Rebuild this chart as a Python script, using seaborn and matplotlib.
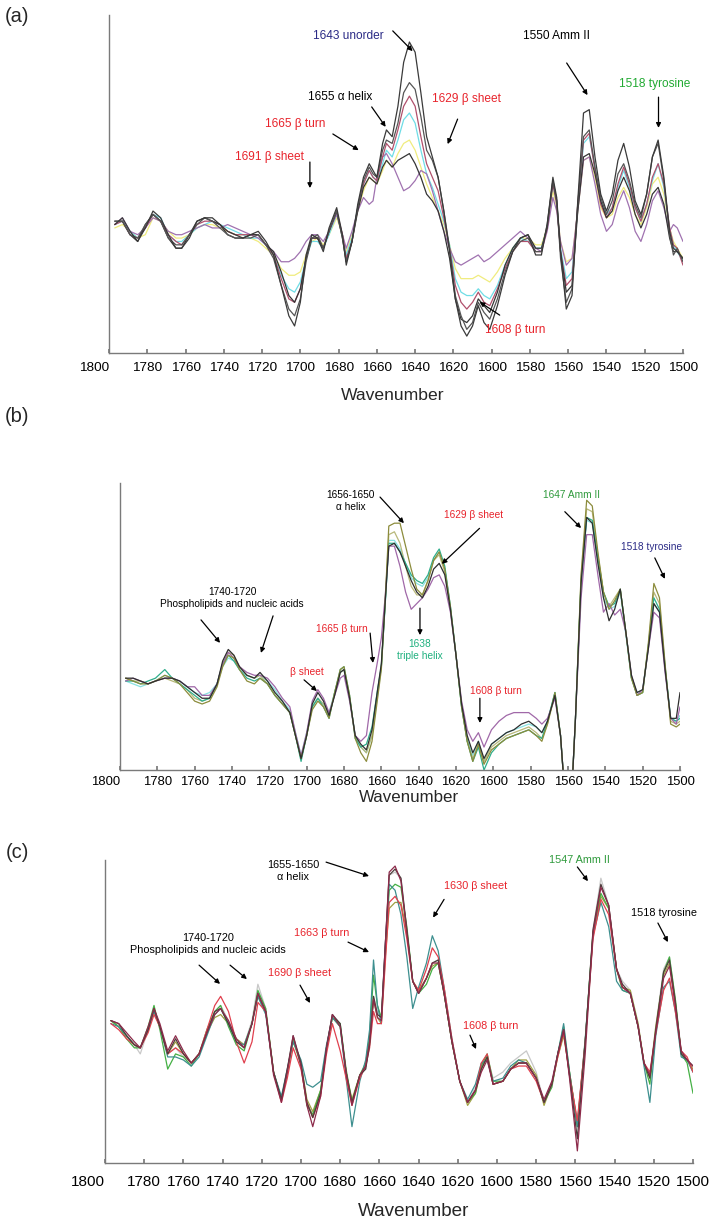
import pandas as pd
import seaborn as sns
import matplotlib.pyplot as plt

# ---- panel (a) : wavenumber grid and second-derivative-like traces (arb. units 0-100)
wn_a = [1797, 1793, 1789, 1785, 1781, 1777, 1773, 1769, 1765, 1762,
        1758, 1754, 1750, 1746, 1742, 1738, 1734, 1730, 1726, 1722,
        1718, 1714, 1710, 1706, 1703, 1700, 1697, 1694, 1691, 1688,
        1685, 1681, 1678, 1676, 1673, 1670, 1667, 1664, 1662, 1660,
        1657, 1655, 1652, 1649, 1646, 1643, 1640, 1637, 1634, 1631,
        1628, 1625, 1622, 1619, 1616, 1613, 1610, 1607, 1604, 1601,
        1597, 1593, 1589, 1585, 1581, 1577, 1574, 1571, 1568, 1566,
        1564, 1561, 1558, 1555, 1552, 1549, 1546, 1543, 1540, 1537,
        1534, 1531, 1528, 1525, 1522, 1519, 1516, 1513, 1510, 1507,
        1505, 1503, 1500]
a_yellow = [37, 38, 36, 34, 35, 40, 39, 36, 34, 34,
            35, 37, 38, 38, 37, 36, 35, 35, 34, 33,
            31, 29, 25, 23, 23, 24, 29, 33, 34, 32,
            35, 40, 35, 30, 35, 42, 48, 52, 51, 50,
            54, 57, 55, 59, 62, 63, 60, 55, 50, 46,
            42, 38, 32, 25, 22, 22, 22, 23, 22, 21,
            24, 28, 31, 34, 34, 32, 32, 37, 48, 43,
            33, 27, 28, 42, 57, 58, 52, 43, 40, 41,
            46, 49, 46, 41, 38, 43, 50, 52, 47, 37,
            33, 31, 28]
a_cyan = [38, 39, 36, 34, 37, 41, 40, 35, 33, 33,
          35, 37, 38, 39, 38, 37, 36, 35, 34, 34,
          32, 29, 23, 19, 18, 21, 28, 33, 33, 31,
          35, 41, 35, 29, 34, 43, 50, 54, 52, 51,
          56, 60, 58, 63, 69, 71, 68, 60, 53, 49,
          44, 39, 32, 22, 18, 17, 17, 19, 17, 16,
          20, 26, 31, 34, 33, 31, 31, 37, 50, 44,
          31, 22, 24, 43, 62, 64, 55, 45, 41, 43,
          49, 54, 49, 43, 39, 44, 51, 56, 49, 37,
          32, 30, 27]
a_purple = [38, 40, 36, 35, 37, 40, 39, 36, 35, 35,
            36, 37, 38, 37, 37, 38, 37, 36, 35, 34,
            32, 30, 27, 27, 28, 30, 33, 35, 35, 33,
            36, 41, 35, 31, 36, 42, 46, 44, 45, 52,
            58, 59, 56, 52, 48, 49, 51, 54, 53, 48,
            42, 36, 31, 27, 26, 27, 28, 29, 27, 28,
            30, 32, 34, 36, 34, 31, 30, 36, 46, 42,
            33, 26, 28, 42, 57, 58, 50, 41, 36, 38,
            44, 48, 43, 36, 33, 38, 45, 48, 43, 36,
            38, 37, 33]
a_maroon = [38, 39, 35, 34, 37, 41, 39, 35, 33, 32,
            35, 38, 39, 39, 38, 36, 35, 35, 35, 35,
            32, 29, 22, 16, 15, 19, 28, 34, 34, 31,
            36, 42, 35, 28, 33, 43, 50, 54, 52, 51,
            58, 62, 60, 66, 73, 76, 73, 64, 56, 52,
            48, 40, 31, 20, 15, 13, 15, 18, 15, 14,
            19, 25, 30, 33, 33, 30, 30, 37, 50, 44,
            30, 20, 22, 44, 63, 65, 54, 44, 40, 43,
            50, 55, 50, 43, 39, 44, 52, 56, 50, 37,
            32, 31, 26]
a_dark3 = [39, 39, 35, 33, 38, 41, 39, 34, 31, 31,
           35, 39, 40, 39, 38, 35, 34, 34, 35, 35,
           32, 30, 24, 17, 15, 19, 28, 34, 34, 31,
           36, 42, 34, 27, 33, 42, 49, 52, 51, 50,
           55, 57, 55, 57, 58, 59, 56, 52, 47, 45,
           42, 36, 28, 16, 10, 9, 11, 16, 14, 12,
           18, 26, 31, 34, 35, 31, 31, 37, 51, 45,
           30, 18, 20, 42, 58, 59, 53, 45, 40, 42,
           48, 52, 48, 41, 37, 41, 47, 49, 44, 34,
           30, 30, 28]
a_dark2 = [39, 39, 35, 34, 38, 41, 39, 34, 32, 32,
           35, 38, 40, 39, 37, 35, 34, 34, 34, 35,
           32, 28, 20, 13, 11, 16, 27, 34, 35, 31,
           36, 42, 34, 27, 33, 43, 51, 55, 53, 52,
           60, 63, 62, 68, 77, 80, 78, 70, 60, 57,
           52, 42, 31, 17, 11, 7, 9, 15, 12, 10,
           16, 24, 30, 33, 34, 30, 30, 38, 51, 45,
           28, 15, 19, 44, 64, 66, 55, 46, 41, 45,
           53, 56, 51, 44, 40, 47, 58, 62, 51, 35,
           29, 31, 27]
a_dark1 = [38, 40, 36, 33, 37, 42, 40, 35, 31, 31,
           34, 39, 40, 40, 38, 36, 35, 34, 35, 36,
           33, 29, 20, 11, 8, 15, 29, 35, 34, 30,
           37, 43, 35, 26, 33, 44, 52, 56, 54, 52,
           62, 66, 64, 73, 86, 92, 89, 77, 64, 58,
           52, 42, 30, 16, 8, 5, 8, 14, 9, 7,
           14, 23, 30, 34, 35, 29, 29, 38, 52, 46,
           30, 13, 17, 45, 71, 72, 58, 47, 42, 47,
           57, 62, 55, 45, 41, 47, 58, 63, 52, 36,
           31, 30, 28]

# ---- panel (b)
wn_b = [1797, 1793, 1789, 1785, 1781, 1776, 1772, 1768, 1764, 1760,
        1756, 1752, 1748, 1745, 1742, 1739, 1736, 1732, 1728, 1725,
        1721, 1717, 1713, 1709, 1706, 1703, 1700, 1697, 1694, 1691,
        1688, 1685, 1682, 1680, 1677, 1674, 1671, 1668, 1665, 1662,
        1660, 1658, 1656, 1653, 1650, 1647, 1644, 1641, 1638, 1635,
        1632, 1629, 1626, 1623, 1620, 1617, 1614, 1611, 1608, 1605,
        1601, 1597, 1593, 1589, 1585, 1581, 1577, 1574, 1571, 1567,
        1564, 1562, 1560, 1558, 1556, 1553, 1550, 1547, 1544, 1541,
        1538, 1535, 1532, 1529, 1526, 1523, 1520, 1517, 1514, 1511,
        1508, 1505, 1502, 1500]
b_cyan = [31, 30, 29, 30, 31, 33, 32, 31, 29, 27,
          26, 27, 30, 36, 39, 38, 35, 33, 32, 33,
          31, 28, 24, 21, 13, 5, 13, 22, 25, 23,
          20, 27, 34, 35, 25, 12, 8, 6, 12, 26,
          36, 57, 80, 80, 77, 72, 67, 65, 64, 67,
          73, 76, 70, 57, 40, 22, 11, 5, 10, 3,
          9, 11, 13, 14, 15, 16, 15, 13, 17, 27,
          12, -6, -15, -8, 18, 65, 87, 86, 73, 60,
          56, 57, 62, 47, 32, 27, 28, 43, 58, 55,
          36, 18, 17, 19]
b_khaki = [32, 31, 31, 30, 31, 32, 31, 30, 28, 25,
           24, 25, 30, 37, 41, 40, 36, 33, 32, 33,
           30, 26, 23, 20, 12, 4, 12, 22, 25, 23,
           19, 27, 34, 35, 25, 12, 8, 6, 12, 27,
           36, 58, 82, 83, 79, 71, 64, 61, 61, 66,
           73, 75, 69, 56, 40, 22, 10, 4, 9, 3,
           8, 10, 12, 13, 14, 15, 13, 11, 16, 26,
           12, -6, -15, -8, 18, 67, 91, 90, 75, 62,
           57, 60, 63, 48, 32, 26, 27, 43, 62, 58,
           36, 17, 16, 17]
b_teal = [31, 31, 30, 31, 32, 35, 32, 30, 28, 26,
          24, 25, 30, 37, 40, 38, 35, 32, 31, 32,
          30, 26, 23, 20, 12, 3, 12, 22, 25, 22,
          18, 27, 35, 36, 26, 11, 8, 9, 15, 28,
          36, 57, 79, 79, 76, 72, 68, 66, 65, 68,
          74, 77, 71, 57, 40, 22, 10, 3, 8, 0,
          6, 9, 11, 12, 13, 14, 12, 11, 17, 27,
          12, -6, -15, -8, 18, 66, 88, 87, 74, 62,
          57, 58, 63, 48, 32, 26, 27, 43, 60, 56,
          36, 18, 17, 18]
b_purple = [31, 32, 31, 30, 31, 32, 32, 31, 29, 29,
            26, 26, 30, 37, 41, 39, 36, 34, 33, 33,
            32, 29, 25, 22, 13, 5, 13, 24, 28, 25,
            20, 26, 32, 33, 24, 12, 10, 12, 27, 38,
            46, 60, 78, 78, 71, 62, 56, 58, 60, 63,
            67, 68, 64, 55, 40, 24, 14, 10, 13, 8,
            14, 17, 19, 20, 20, 20, 18, 16, 18, 25,
            12, -6, -15, -8, 18, 60, 82, 82, 68, 55,
            58, 54, 56, 48, 33, 26, 28, 42, 55, 53,
            34, 18, 16, 22]
b_olive = [32, 31, 30, 30, 31, 33, 32, 30, 27, 24,
           23, 24, 29, 36, 40, 39, 35, 31, 30, 32,
           30, 26, 23, 20, 12, 4, 12, 21, 24, 22,
           18, 27, 35, 36, 26, 11, 6, 3, 10, 25,
           35, 58, 85, 86, 86, 78, 70, 63, 61, 66,
           73, 76, 70, 57, 40, 22, 10, 3, 9, 2,
           7, 9, 11, 12, 13, 14, 12, 10, 16, 27,
           12, -6, -15, -8, 18, 68, 94, 92, 76, 62,
           56, 59, 63, 48, 32, 26, 27, 44, 65, 60,
           37, 16, 15, 16]
b_dark = [32, 32, 31, 30, 31, 32, 32, 31, 29, 27,
          25, 25, 30, 38, 42, 40, 36, 33, 32, 34,
          31, 27, 24, 20, 12, 4, 12, 23, 27, 24,
          19, 26, 34, 35, 25, 12, 9, 7, 14, 28,
          37, 58, 78, 79, 76, 71, 66, 62, 60, 64,
          70, 72, 68, 56, 40, 23, 12, 6, 10, 4,
          9, 11, 13, 14, 16, 17, 15, 13, 17, 26,
          12, -6, -15, -8, 18, 65, 88, 86, 72, 60,
          52, 56, 63, 48, 33, 27, 28, 42, 58, 55,
          35, 18, 18, 27]

# ---- panel (c)
wn_c = [1797, 1793, 1789, 1785, 1782, 1778, 1775, 1772, 1768, 1764,
        1760, 1756, 1752, 1748, 1744, 1741, 1737, 1733, 1729, 1725,
        1722, 1718, 1714, 1710, 1707, 1704, 1700, 1697, 1694, 1690,
        1687, 1684, 1680, 1677, 1674, 1670, 1667, 1665, 1663, 1661,
        1659, 1657, 1655, 1652, 1649, 1646, 1643, 1640, 1636, 1633,
        1630, 1627, 1623, 1619, 1615, 1611, 1608, 1605, 1602, 1597,
        1593, 1589, 1585, 1580, 1576, 1572, 1569, 1566, 1563, 1559,
        1555, 1551, 1547, 1543, 1539, 1536, 1532, 1528, 1525, 1522,
        1519, 1515, 1512, 1509, 1506, 1503, 1500]
c_lightgray = [47, 45, 42, 39, 36, 44, 50, 45, 36, 38,
               35, 33, 36, 43, 50, 52, 47, 41, 39, 47,
               59, 51, 30, 21, 31, 41, 33, 20, 16, 23,
               38, 49, 45, 30, 20, 29, 31, 40, 55, 50,
               48, 70, 95, 96, 94, 76, 60, 56, 61, 66,
               67, 56, 40, 27, 20, 25, 32, 35, 28, 30,
               33, 35, 37, 30, 20, 26, 36, 44, 29, 14,
               40, 77, 94, 85, 64, 60, 57, 46, 33, 29,
               45, 64, 68, 54, 37, 34, 30]
c_olive = [47, 45, 42, 39, 38, 44, 50, 45, 36, 40,
           36, 33, 36, 43, 48, 49, 46, 41, 39, 46,
           55, 50, 30, 21, 30, 40, 33, 21, 17, 24,
           38, 48, 45, 30, 21, 29, 32, 40, 54, 48,
           46, 68, 84, 86, 86, 76, 60, 57, 61, 65,
           66, 56, 40, 27, 19, 23, 31, 35, 26, 27,
           31, 34, 34, 29, 19, 26, 35, 42, 30, 13,
           40, 76, 88, 84, 64, 58, 57, 46, 33, 28,
           45, 62, 66, 53, 36, 34, 31]
c_green = [47, 45, 41, 38, 38, 45, 52, 44, 31, 36,
           35, 32, 36, 44, 50, 52, 45, 39, 37, 46,
           57, 51, 30, 21, 30, 41, 32, 19, 16, 24,
           38, 48, 46, 31, 20, 29, 33, 42, 62, 52,
           48, 70, 90, 92, 91, 78, 60, 56, 59, 64,
           66, 56, 40, 27, 20, 23, 32, 36, 27, 27,
           31, 33, 33, 28, 20, 25, 36, 45, 30, 12,
           40, 76, 89, 84, 64, 57, 56, 45, 33, 26,
           43, 63, 68, 54, 36, 33, 23]
c_teal = [46, 45, 42, 39, 38, 44, 50, 45, 35, 35,
          34, 32, 35, 42, 49, 51, 46, 40, 39, 46,
          55, 49, 30, 22, 31, 40, 34, 26, 25, 27,
          39, 48, 45, 28, 12, 27, 34, 44, 67, 52,
          46, 72, 92, 90, 82, 68, 51, 58, 66, 75,
          70, 58, 41, 27, 21, 26, 33, 34, 27, 28,
          32, 34, 33, 28, 20, 26, 36, 46, 30, 12,
          41, 75, 86, 78, 60, 57, 56, 45, 32, 20,
          42, 58, 60, 50, 35, 34, 30]
c_red = [46, 44, 41, 39, 38, 43, 49, 45, 36, 38,
         36, 33, 36, 44, 52, 55, 50, 40, 33, 40,
         53, 50, 30, 20, 28, 38, 31, 20, 15, 22,
         36, 46, 37, 28, 19, 28, 32, 38, 50, 46,
         46, 66, 86, 88, 85, 74, 60, 57, 64, 71,
         68, 58, 41, 27, 20, 24, 33, 36, 26, 27,
         31, 32, 32, 27, 20, 26, 35, 43, 29, 14,
         40, 74, 87, 82, 64, 58, 56, 45, 33, 30,
         43, 57, 61, 50, 37, 35, 30]
c_dark = [47, 46, 42, 39, 38, 44, 51, 45, 36, 41,
          36, 33, 36, 43, 50, 51, 46, 40, 38, 46,
          56, 50, 30, 21, 31, 42, 33, 20, 15, 23,
          38, 49, 46, 30, 20, 29, 31, 39, 55, 49,
          48, 72, 95, 97, 94, 77, 60, 56, 61, 66,
          67, 56, 40, 27, 20, 24, 31, 35, 26, 27,
          31, 33, 33, 28, 20, 26, 36, 44, 29, 8,
          40, 77, 92, 85, 64, 59, 56, 45, 33, 28,
          44, 63, 67, 53, 36, 34, 32]
c_maroon = [47, 46, 43, 40, 38, 45, 51, 46, 37, 42,
            37, 33, 36, 43, 49, 51, 47, 41, 38, 46,
            56, 50, 29, 20, 30, 42, 32, 19, 12, 22,
            38, 49, 45, 30, 19, 29, 32, 40, 54, 48,
            47, 72, 96, 98, 93, 76, 60, 56, 61, 66,
            66, 56, 40, 27, 20, 24, 30, 34, 26, 27,
            31, 33, 33, 28, 21, 27, 36, 44, 28, 4,
            36, 76, 91, 85, 64, 58, 56, 45, 33, 29,
            43, 61, 65, 52, 37, 34, 32]

ticks = list(range(1800, 1499, -20))

RED = "#e8242c"
NAVY = "#2b2b86"
GREEN = "#2f9a3c"

# (label, colour, text position, [(arrow tail, arrow head), ...])
notes_a = [
    ("1643 unorder", NAVY, (1675, 93.8), [((1651.7, 95.3), (1641.3, 89.3))]),
    ("1550 Amm II", "black", (1566, 93.8), [((1560.8, 85.8), (1549.9, 76.3))]),
    ("1518 tyrosine", "#22aa33", (1515, 79.6), [((1512.8, 75.7), (1512.8, 66.6))]),
    ("1655 \u03b1 helix", "black", (1679, 75.7), [((1662.7, 72.8), (1655.4, 66.9))]),
    ("1629 \u03b2 sheet", RED, (1613, 75.1), [((1617.8, 69.2), (1623, 61.8))]),
    ("1665 \u03b2 turn", RED, (1702.8, 67.8), [((1683, 64.8), (1669.5, 60))]),
    ("1691 \u03b2 sheet", RED, (1716, 58), [((1695, 56.5), (1695, 48.8))]),
    ("1608 \u03b2 turn", RED, (1587.5, 6.8), [((1595.8, 11.2), (1606.3, 15.1))]),
]
notes_b = [
    ("1656-1650\n\u03b1 helix", "black", (1676.3, 93.7), [((1660.7, 95.1), (1647.9, 86))]),
    ("1629 \u03b2 sheet", RED, (1610.4, 88.8), [((1607.4, 84.2), (1627.6, 71.8))]),
    ("1647 Amm II", GREEN, (1558, 95.8), [((1561.7, 90), (1553, 84.3))]),
    ("1518 tyrosine", NAVY, (1515, 77.7), [((1513.5, 73.9), (1508.1, 66.6))]),
    ("1740-1720\nPhospholipids and nucleic acids", "black", (1740, 60),
     [((1756.6, 52.3), (1746.4, 44.3)), ((1718, 53.7), (1724.5, 40.8))]),
    ("1665 \u03b2 turn", RED, (1681, 49), [((1666, 47.7), (1664.5, 37.3))]),
    ("1638\ntriple helix", "#1fb07e", (1639.3, 41.8), [((1639.3, 56.4), (1639.3, 47))]),
    ("\u03b2 sheet", RED, (1700, 34), [((1701.4, 31.4), (1694.5, 27.5))]),
    ("1608 \u03b2 turn", RED, (1598.6, 27.5), [((1607.2, 25), (1607.2, 16.4))]),
]
notes_c = [
    ("1655-1650\n\u03b1 helix", "black", (1704, 96.4), [((1687.2, 99.3), (1665.3, 94.7))]),
    ("1547 Amm II", GREEN, (1557.7, 100), [((1559, 97.7), (1553.6, 93))]),
    ("1630 \u03b2 sheet", RED, (1610.7, 91.4), [((1627, 87), (1632.6, 81))]),
    ("1518 tyrosine", "black", (1514.8, 82.5), [((1517.9, 79.2), (1512.8, 72.9))]),
    ("1663 \u03b2 turn", RED, (1689.3, 75.9), [((1676, 72.9), (1665.3, 69.6))]),
    ("1740-1720\nPhospholipids and nucleic acids", "black", (1747.4, 72.3),
     [((1752, 65.3), (1741.3, 59.1)), ((1736.2, 65.3), (1727.6, 60.7))]),
    ("1690 \u03b2 sheet", RED, (1700.5, 62.7), [((1700.5, 58.7), (1695.4, 52.8))]),
    ("1608 \u03b2 turn", RED, (1603, 45.2), [((1613.8, 42.2), (1610.7, 37.6))]),
]


def long_frame(wn, curves):
    parts = [pd.DataFrame({"wavenumber": wn, "value": vals, "sample": name})
             for name, vals in curves.items()]
    return pd.concat(parts, ignore_index=True)


sns.set_theme(style="white")
plt.rcParams["font.family"] = ["Liberation Sans", "DejaVu Sans"]

W, H = 709, 1224
fig = plt.figure(figsize=(W / 100, H / 100), dpi=100)


def add_panel(box, wn, curves, palette, notes, tick_size, tick_pad, note_size):
    left, top, right, bottom = box
    ax = fig.add_axes([left / W, 1 - bottom / H, (right - left) / W, (bottom - top) / H])
    df = long_frame(wn, curves)
    sns.lineplot(data=df, x="wavenumber", y="value", hue="sample",
                 hue_order=list(curves), palette=palette, estimator=None,
                 sort=False, legend=False, linewidth=0.9, ax=ax)
    ax.set_xlim(1800, 1500)
    ax.set_ylim(0, 100)
    ax.set_xticks(ticks)
    ax.set_xticklabels([str(t) for t in ticks])
    ax.get_xticklabels()[0].set_ha("right")
    ax.set_yticks([])
    ax.set_xlabel("")
    ax.set_ylabel("")
    for side in ("top", "right"):
        ax.spines[side].set_visible(False)
    for side in ("left", "bottom"):
        ax.spines[side].set_color("#7a7a7a")
        ax.spines[side].set_linewidth(1.0)
    ax.tick_params(axis="x", direction="in", length=3, color="#7a7a7a",
                   labelsize=tick_size, pad=tick_pad, labelcolor="black", bottom=True)
    for label, color, pos, arrows in notes:
        ax.text(pos[0], pos[1], label, color=color, fontsize=note_size,
                ha="center", va="center", linespacing=1.25, clip_on=False)
        for tail, head in arrows:
            ax.annotate("", xy=head, xytext=tail, annotation_clip=False,
                        arrowprops=dict(arrowstyle="-|>", color="black", lw=0.9,
                                        mutation_scale=7, shrinkA=0, shrinkB=0))
    return ax


add_panel((109, 15, 683, 353), wn_a,
          {"yellow": a_yellow, "cyan": a_cyan, "purple": a_purple, "maroon": a_maroon,
           "dark3": a_dark3, "dark2": a_dark2, "dark1": a_dark1},
          {"yellow": "#f0ec7e", "cyan": "#6fdde6", "purple": "#a072b0", "maroon": "#b0506c",
           "dark3": "#353535", "dark2": "#555555", "dark1": "#3a3a3a"},
          notes_a, 9.7, 6.5, 8.6)

add_panel((120, 483, 680, 770), wn_b,
          {"cyan": b_cyan, "khaki": b_khaki, "teal": b_teal, "purple": b_purple,
           "olive": b_olive, "dark": b_dark},
          {"cyan": "#88e2e2", "khaki": "#b8b87a", "teal": "#2fae8c", "purple": "#a068a8",
           "olive": "#8c8c3c", "dark": "#2e2e2e"},
          notes_b, 9.4, 4.3, 7.3)

add_panel((105, 860, 693, 1163), wn_c,
          {"lightgray": c_lightgray, "olive": c_olive, "green": c_green, "teal": c_teal,
           "red": c_red, "dark": c_dark, "maroon": c_maroon},
          {"lightgray": "#c8c8c8", "olive": "#a0a044", "green": "#44b044", "teal": "#3d8f8f",
           "red": "#e0404e", "dark": "#4d3b3b", "maroon": "#8c2a4a"},
          notes_c, 11, 8.6, 7.8)

for txt, x, y in [("(a)", 17, 17), ("(b)", 17, 417), ("(c)", 17, 852)]:
    fig.text(x / W, 1 - y / H, txt, fontsize=14.5, ha="center", va="center")

for x, y, size in [(393, 395, 12.6), (409, 798, 12.2), (414, 1211, 13.6)]:
    fig.text(x / W, 1 - y / H, "Wavenumber", fontsize=size, ha="center", va="center")

fig.savefig("out.png", dpi=100, facecolor="white")
